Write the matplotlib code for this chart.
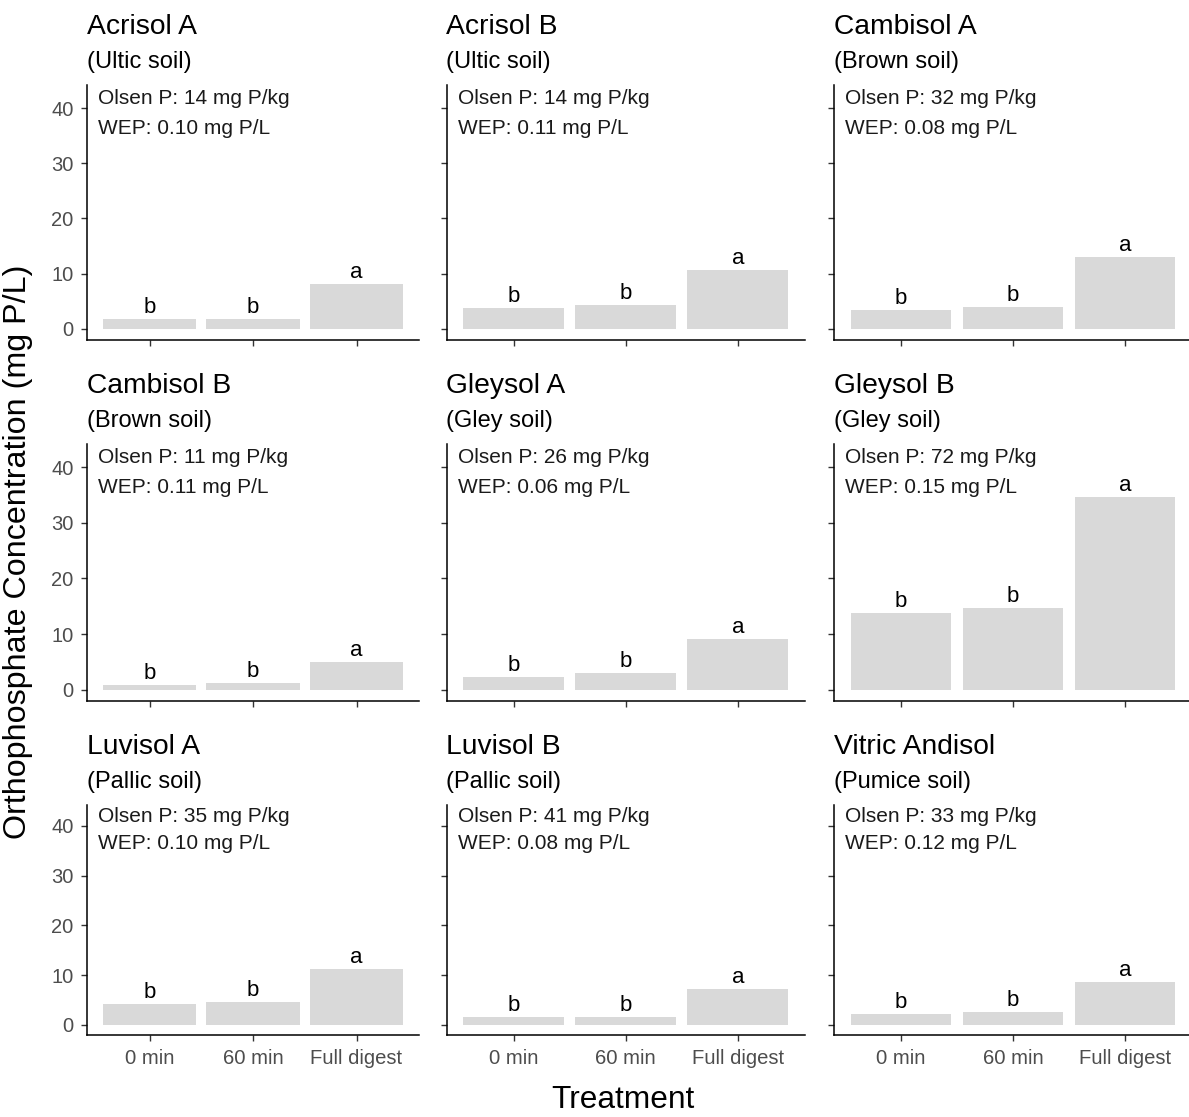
import matplotlib
matplotlib.use("Agg")
import matplotlib.pyplot as plt

plt.rcParams['font.family'] = ['Liberation Sans', 'DejaVu Sans']

soils = ["Acrisol A", "Acrisol B", "Cambisol A", "Cambisol B", "Gleysol A",
         "Gleysol B", "Luvisol A", "Luvisol B", "Vitric Andisol"]
soil_types = ["Ultic soil", "Ultic soil", "Brown soil", "Brown soil", "Gley soil",
              "Gley soil", "Pallic soil", "Pallic soil", "Pumice soil"]
olsen_p = [14, 14, 32, 11, 26, 72, 35, 41, 33]
wep = ["0.10", "0.11", "0.08", "0.11", "0.06", "0.15", "0.10", "0.08", "0.12"]
treatments = ["0 min", "60 min", "Full digest"]
conc_0min = [1.7, 3.8, 3.4, 0.85, 2.3, 13.8, 4.2, 1.6, 2.2]
conc_60min = [1.7, 4.3, 4.0, 1.2, 2.9, 14.7, 4.6, 1.6, 2.6]
conc_full = [8.05, 10.7, 13.0, 4.9, 9.1, 34.7, 11.3, 7.1, 8.7]
letters = ["b", "b", "a"]
y_ticks = [0, 10, 20, 30, 40]

W, H = 1189, 1117
fig = plt.figure(figsize=(W / 100, H / 100), dpi=100)

col_px = [(87.4, 418.6), (446.5, 805.0), (834.0, 1192.0)]
row_px = [(85, 340), (444, 701), (805, 1035)]

bar_color = "#D9D9D9"
tick_color = "#4D4D4D"

for i, soil in enumerate(soils):
    r, c = divmod(i, 3)
    x0, x1 = col_px[c]
    t0, b0 = row_px[r]
    ax = fig.add_axes([x0 / W, 1 - b0 / H, (x1 - x0) / W, (b0 - t0) / H])
    vals = [conc_0min[i], conc_60min[i], conc_full[i]]
    xs = [1, 2, 3]
    ax.bar(xs, vals, width=0.9, color=bar_color, zorder=2)
    for x, v, lab in zip(xs, vals, letters):
        ax.annotate(lab, xy=(x, v), xytext=(0, 6), textcoords='offset pixels',
                    ha='center', va='baseline', fontsize=16, color='black')
    ax.text(0.5, 40.8, f"Olsen P: {olsen_p[i]} mg P/kg", ha='left', va='baseline',
            fontsize=15, color='#1A1A1A')
    ax.text(0.5, 35.3, f"WEP: {wep[i]} mg P/L", ha='left', va='baseline',
            fontsize=15, color='#1A1A1A')
    ax.set_xlim(0.4, 3.6)
    ax.set_ylim(-2.05, 44.2)
    ax.set_xticks(xs)
    ax.set_yticks(y_ticks)
    if r == 2:
        ax.set_xticklabels(treatments, fontsize=14.6, color=tick_color)
    else:
        ax.set_xticklabels([])
    if c == 0:
        ax.set_yticklabels([str(t) for t in y_ticks], fontsize=14.5, color=tick_color)
    else:
        ax.set_yticklabels([])
    ax.tick_params(axis='both', direction='out', length=4, width=1.0,
                   color='#333333', pad=6)
    for s in ['top', 'right']:
        ax.spines[s].set_visible(False)
    for s in ['left', 'bottom']:
        ax.spines[s].set_linewidth(1.1)
        ax.spines[s].set_color('black')
    ax.patch.set_visible(False)
    ax.annotate(soil, xy=(0, 1), xycoords='axes fraction', xytext=(0, 51),
                textcoords='offset pixels', ha='left', va='baseline',
                fontsize=20.3, color='black')
    ax.annotate(f"({soil_types[i]})", xy=(0, 1), xycoords='axes fraction',
                xytext=(0, 17), textcoords='offset pixels', ha='left',
                va='baseline', fontsize=17, color='black')

fig.text(18 / W, 1 - 552 / H, "Orthophosphate Concentration (mg P/L)",
         rotation=90, ha='center', va='center', fontsize=23.2)
fig.text(623 / W, 1 - 1100 / H, "Treatment", ha='center', va='center', fontsize=22.8)

fig.savefig("out.png", dpi=100, facecolor='white')
